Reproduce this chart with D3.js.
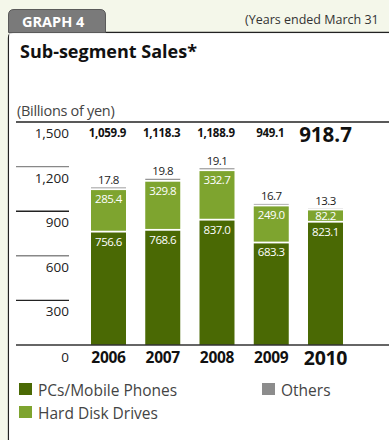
<!DOCTYPE html>
<html>
<head>
<meta charset="utf-8">
<script src="https://cdn.jsdelivr.net/npm/d3@7"></script>
<style>
  html, body { margin: 0; padding: 0; background: #f4f7ea; }
  svg { display: block; }
  text { font-family: "Open Sans", "Noto Sans", sans-serif; }
</style>
</head>
<body>
<svg id="chart" width="389" height="440"></svg>
<script>
// Fiscal years (ended March 31)
const years = ["2006", "2007", "2008", "2009", "2010"];
// Sales by sub-segment, billions of yen
const pcsMobile = [756.6, 768.6, 837.0, 683.3, 823.1];
const hardDisk = [285.4, 329.8, 332.7, 249.0, 82.2];
const others = [17.8, 19.8, 19.1, 16.7, 13.3];
const totals = ["1,059.9", "1,118.3", "1,188.9", "949.1", "918.7"];
const yTicks = [0, 300, 600, 900, 1200, 1500];
const seriesNames = ["PCs/Mobile Phones", "Hard Disk Drives", "Others"];
const colors = ["#4a6904", "#7ea42f", "#8c8c8c"];

const svg = d3.select("#chart");

// Panel with a tab
svg.append("path")
  .attr("d", "M8.5,440 L8.5,38 Q8.5,32.5 14,32.5 L389,32.5")
  .attr("fill", "#ffffff").attr("stroke", "#222").attr("stroke-width", 1.3);
svg.append("rect").attr("x", 9.2).attr("y", 33.2).attr("width", 380).attr("height", 407).attr("fill", "#fff");
svg.append("path")
  .attr("d", "M8.5,32.5 L8.5,15 Q8.5,9.5 14,9.5 L100,9.5 Q105.5,9.5 105.5,15 L105.5,32.5 Z")
  .attr("fill", "#7a7a7a").attr("stroke", "#5a5a5a").attr("stroke-width", 1);
svg.append("text").attr("x", 22).attr("y", 27).attr("fill", "#fff")
  .attr("font-size", 14.5).attr("font-weight", "bold").text("GRAPH 4");
svg.append("text").attr("x", 245).attr("y", 24).attr("fill", "#333")
  .attr("font-size", 12.5).text("(Years ended March 31");

svg.append("text").attr("x", 20).attr("y", 58).attr("fill", "#111")
  .attr("font-size", 18).attr("font-weight", "bold").text("Sub-segment Sales*");
svg.append("text").attr("x", 17).attr("y", 116).attr("fill", "#444")
  .attr("font-size", 14.5).attr("letter-spacing", -0.3).text("(Billions of yen)");

// Scales
const y = d3.scaleLinear().domain([0, 1500]).range([345, 122]);
const x = d3.scaleBand().domain(years).range([91, 343]).paddingInner(0.355).paddingOuter(0);

// Header rule
svg.append("line").attr("x1", 16).attr("x2", 389).attr("y1", y(1500)).attr("y2", y(1500))
  .attr("stroke", "#222").attr("stroke-width", 1.5);

// Short rules beside the value labels
svg.selectAll(".stub").data(yTicks.filter(v => v > 0 && v < 1500)).join("line")
  .attr("x1", 16).attr("x2", 69).attr("y1", d => y(d)).attr("y2", d => y(d))
  .attr("stroke", d => (d / 300) % 2 === 0 ? "#888" : "#222").attr("stroke-width", 1.4);

svg.selectAll(".ytick").data(yTicks).join("text")
  .attr("x", 69).attr("y", d => d === 0 ? y(d) + 17 : y(d) + 16)
  .attr("text-anchor", "end").attr("font-size", 13.5).attr("fill", "#222")
  .text(d => d3.format(",")(d));

// Stacked bars
const rows = years.map((yr, i) => ({ year: yr, values: [pcsMobile[i], hardDisk[i], others[i]] }));
const segs = [];
rows.forEach(r => {
  let base = 0;
  r.values.forEach((v, k) => {
    segs.push({ year: r.year, k, v, y0: base, y1: base + v });
    base += v;
  });
});

svg.selectAll(".seg").data(segs).join("rect")
  .attr("x", d => x(d.year))
  .attr("width", x.bandwidth())
  .attr("y", d => y(d.y1))
  .attr("height", d => y(d.y0) - y(d.y1) - (d.k === 0 ? 0 : 1.8))
  .attr("fill", d => colors[d.k]);

// Labels inside the green segments
svg.selectAll(".inlab").data(segs.filter(d => d.k < 2)).join("text")
  .attr("x", d => x(d.year) + x.bandwidth() / 2)
  .attr("y", d => y(d.y1) + ((y(d.y0) - y(d.y1)) < 20 ? 9.5 : 13))
  .attr("text-anchor", "middle").attr("fill", "#fff").attr("font-size", 11.5)
  .attr("letter-spacing", -0.5)
  .text(d => d.v.toFixed(1));

// Labels above the Others segments
svg.selectAll(".toplab").data(segs.filter(d => d.k === 2)).join("text")
  .attr("x", d => x(d.year) + x.bandwidth() / 2)
  .attr("y", d => y(d.y1) - 3.5)
  .attr("text-anchor", "middle").attr("fill", "#222").attr("font-size", 11.5)
  .attr("letter-spacing", -0.5)
  .text(d => d.v.toFixed(1));

// Totals row
svg.selectAll(".total").data(years).join("text")
  .attr("x", (d, i) => x(d) + x.bandwidth() / 2 + (i === 4 ? 0 : -1))
  .attr("y", (d, i) => i === 4 ? 142 : 137)
  .attr("text-anchor", "middle").attr("fill", "#111").attr("font-weight", "bold")
  .attr("font-size", (d, i) => i === 4 ? 20.5 : 11.5)
  .attr("letter-spacing", (d, i) => i === 4 ? 0 : -0.3)
  .text((d, i) => totals[i]);

svg.append("line").attr("x1", 16).attr("x2", 389).attr("y1", y(0)).attr("y2", y(0))
  .attr("stroke", "#333").attr("stroke-width", 1.5);

// Year labels
svg.selectAll(".yr").data(years).join("text")
  .attr("x", d => x(d) + x.bandwidth() / 2)
  .attr("y", (d, i) => i === 4 ? 365 : 363)
  .attr("text-anchor", "middle").attr("fill", "#111").attr("font-weight", "bold")
  .attr("font-size", (d, i) => i === 4 ? 19.5 : 15.5)
  .attr("letter-spacing", -0.3)
  .text(d => d);

// Legend
const legendPos = [[19, 383], [19, 406], [262, 383]];
const lg = svg.selectAll(".lg").data(seriesNames).join("g")
  .attr("transform", (d, i) => `translate(${legendPos[i][0]},${legendPos[i][1]})`);
lg.append("rect").attr("width", 13).attr("height", 12).attr("fill", (d, i) => colors[i]);
lg.append("text").attr("x", 19).attr("y", 13).attr("font-size", 15.5).attr("fill", "#444")
  .text(d => d);
</script>
</body>
</html>
